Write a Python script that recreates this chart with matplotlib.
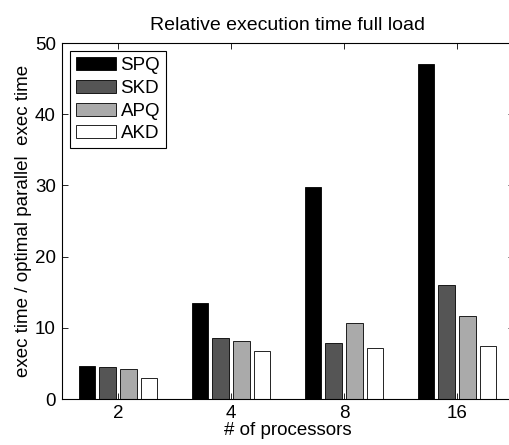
import numpy as np
import matplotlib
matplotlib.use('Agg')
import matplotlib.pyplot as plt

plt.rcParams['font.family'] = ['Liberation Sans', 'DejaVu Sans']

processors = ['2', '4', '8', '16']
series = ['SPQ', 'SKD', 'APQ', 'AKD']
spq = [4.6, 13.5, 29.8, 47.0]
skd = [4.5, 8.5, 7.9, 16.0]
apq = [4.2, 8.1, 10.7, 11.6]
akd = [2.9, 6.8, 7.1, 7.4]
colors = ['#000000', '#555555', '#aaaaaa', '#ffffff']

fig = plt.figure(figsize=(5.09, 4.45), dpi=100)
# axes runs a bit off the right side, like the original screenshot
ax = fig.add_axes([61.5 / 509, 1 - 399 / 445, 452 / 509, 356 / 445])

x = np.arange(1, len(processors) + 1)
pitch = 0.183
for i, (vals, name) in enumerate(zip([spq, skd, apq, akd], series)):
    ax.bar(x + (i - 1.5) * pitch, vals, width=0.148, color=colors[i],
           edgecolor='black', linewidth=0.6, label=name)

ax.set_xlim(0.5, 4.5)
ax.set_ylim(0, 50)
ax.set_xticks(x)
ax.set_xticklabels(processors)
ax.set_yticks(range(0, 51, 10))
ax.tick_params(direction='in', top=True, right=True, labelsize=13.5, length=4, width=0.6, pad=4)
for s in ax.spines.values():
    s.set_linewidth(0.8)

ax.set_title('Relative execution time full load', fontsize=14, pad=9)
ax.set_xlabel('# of processors', fontsize=13.5, labelpad=0)
ax.set_ylabel('exec time / optimal parallel  exec time', fontsize=13.5, labelpad=2)

leg = ax.legend(loc='upper left', fontsize=13.5, fancybox=False, framealpha=1,
                edgecolor='black', handlelength=2.15, handleheight=0.7,
                handletextpad=0.25, labelspacing=0.3, borderpad=0.3,
                borderaxespad=0.45)
leg.get_frame().set_linewidth(0.8)

fig.savefig('out.png', dpi=100)
